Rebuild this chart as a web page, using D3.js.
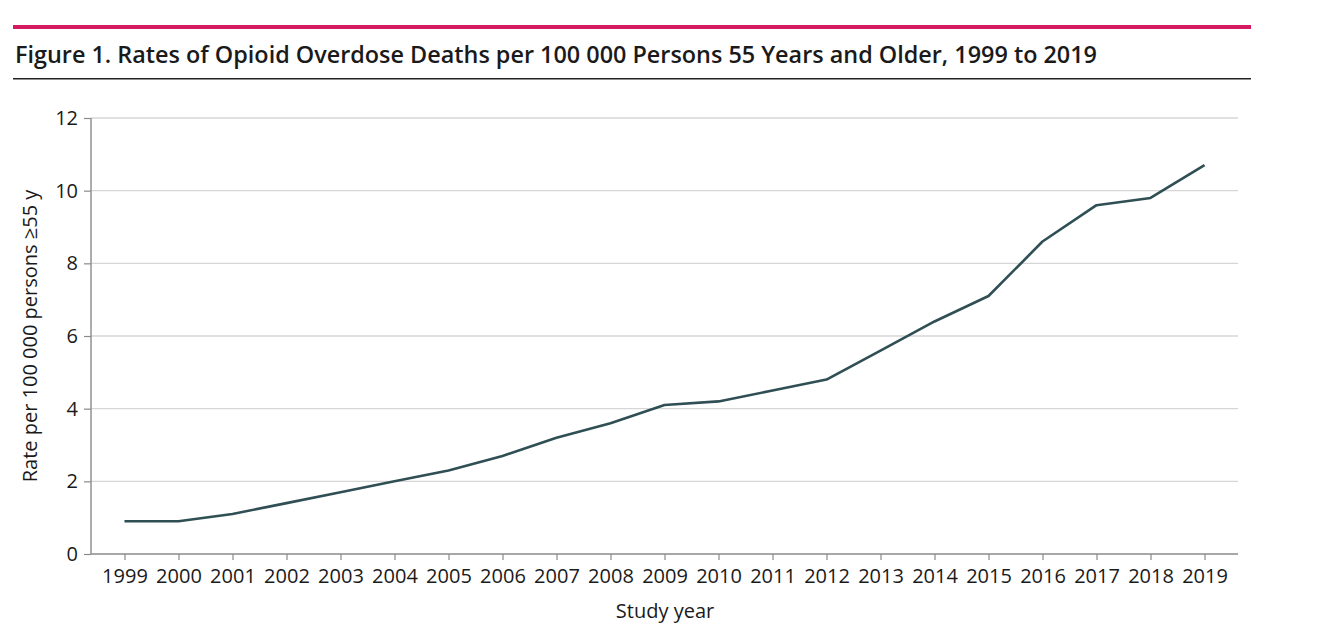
<!DOCTYPE html>
<html>
<head>
<meta charset="utf-8">
<script src="https://cdn.jsdelivr.net/npm/d3@7"></script>
<style>
  body { margin: 0; background: #fff; }
  svg { display: block; }
</style>
</head>
<body>
<svg id="chart" width="1322" height="626"></svg>
<script>
// data
const years = [1999, 2000, 2001, 2002, 2003, 2004, 2005, 2006, 2007, 2008, 2009,
  2010, 2011, 2012, 2013, 2014, 2015, 2016, 2017, 2018, 2019];
const rates = [0.9, 0.9, 1.1, 1.4, 1.7, 2.0, 2.3, 2.7, 3.2, 3.6, 4.1,
  4.2, 4.5, 4.8, 5.6, 6.4, 7.1, 8.6, 9.6, 9.8, 10.7];
const yTicks = [0, 2, 4, 6, 8, 10, 12];

const svg = d3.select("#chart");
const font = "'Open Sans', 'Noto Sans', sans-serif";

// header: pink bar, title, black rule
svg.append("rect")
  .attr("x", 13).attr("y", 25)
  .attr("width", 1238).attr("height", 4)
  .attr("fill", "#d31a62");

svg.append("text")
  .attr("x", 15).attr("y", 63)
  .attr("font-family", font)
  .attr("font-weight", 600)
  .attr("font-size", 22.5)
  .attr("fill", "#1a1a1a")
  .attr("textLength", 1082)
  .attr("lengthAdjust", "spacingAndGlyphs")
  .text("Figure 1. Rates of Opioid Overdose Deaths per 100 000 Persons 55 Years and Older, 1999 to 2019");

svg.append("rect")
  .attr("x", 13).attr("y", 78)
  .attr("width", 1238).attr("height", 1.5)
  .attr("fill", "#222");

const mLeft = 91, mRight = 1238, mTop = 118, mBottom = 554;

const x = d3.scalePoint()
  .domain(years)
  .range([mLeft, mRight])
  .padding(0.62);

const y = d3.scaleLinear()
  .domain([0, 12])
  .range([mBottom, mTop]);

// gridlines
svg.append("g")
  .selectAll("line")
  .data(yTicks.filter(d => d > 0))
  .enter()
  .append("line")
  .attr("x1", mLeft).attr("x2", mRight)
  .attr("y1", d => y(d)).attr("y2", d => y(d))
  .attr("stroke", "#d6d6d6")
  .attr("stroke-width", 1.3);

// y axis
const yAxis = svg.append("g")
  .attr("transform", `translate(${mLeft},0)`)
  .call(d3.axisLeft(y).tickValues(yTicks).tickSize(7).tickPadding(6));

// x axis
const xAxis = svg.append("g")
  .attr("transform", `translate(0,${mBottom})`)
  .call(d3.axisBottom(x).tickSize(6).tickPadding(9).tickFormat(d3.format("d")));

// domain lines span the whole plot
xAxis.select(".domain").attr("d", `M${mLeft},0H${mRight}`);
yAxis.select(".domain").attr("d", `M0,${mTop}V${mBottom}`);

[xAxis, yAxis].forEach(a => {
  a.select(".domain").attr("stroke", "#8a8a8a").attr("stroke-width", 1.4);
  a.selectAll(".tick line").attr("stroke", "#8a8a8a").attr("stroke-width", 1.2);
  a.selectAll(".tick text")
    .attr("font-family", font)
    .attr("font-size", 20)
    .attr("fill", "#1a1a1a");
});

// line
const line = d3.line()
  .x((d, i) => x(years[i]))
  .y(d => y(d));

svg.append("path")
  .datum(rates)
  .attr("d", line)
  .attr("fill", "none")
  .attr("stroke", "#2f4f55")
  .attr("stroke-width", 2.6)
  .attr("stroke-linejoin", "round");

// axis titles
svg.append("text")
  .attr("x", 665).attr("y", 618)
  .attr("text-anchor", "middle")
  .attr("font-family", font)
  .attr("font-size", 20)
  .attr("fill", "#1a1a1a")
  .text("Study year");

svg.append("text")
  .attr("transform", "translate(37,336) rotate(-90)")
  .attr("text-anchor", "middle")
  .attr("font-family", font)
  .attr("font-size", 20)
  .attr("fill", "#1a1a1a")
  .text("Rate per 100 000 persons ≥55 y");
</script>
</body>
</html>
